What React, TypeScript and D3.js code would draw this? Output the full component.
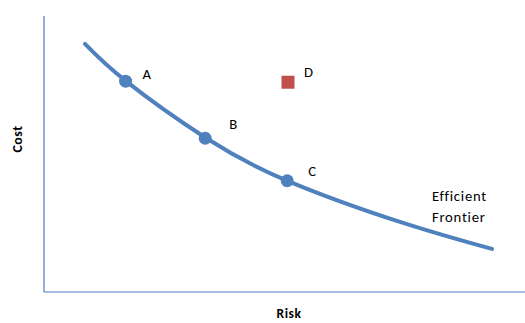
import React from "react";
import * as d3 from "d3";

const frontierX = [1.025, 2.05, 4.05, 6.1, 8.9, 11.2];
const frontierY = [8.99, 7.64, 5.58, 4.02, 2.54, 1.56];
const pointLabels = ["A", "B", "C"];
const pointX = [2.04, 4.03, 6.08];
const pointY = [7.64, 5.57, 4.03];
const otherLabel = "D";
const otherX = 6.1;
const otherY = 7.6;
const frontierLabel = ["Efficient", "Frontier"];

// label offsets (layout only)
const labelDX = [17, 24, 21];
const labelDY = [-2, -9, -5];

const W = 525;
const H = 323;

export default function App() {
  const x = d3.scaleLinear().domain([0, 12]).range([44, 524]);
  const y = d3.scaleLinear().domain([0, 10]).range([292, 16]);
  const line = d3
    .line<number>()
    .x((_, i) => x(frontierX[i]))
    .y((d) => y(d))
    .curve(d3.curveNatural);
  const font = "Carlito, Calibri, 'Open Sans', 'Liberation Sans', sans-serif";
  return (
    <svg
      width={W}
      height={H}
      style={{ position: "absolute", left: 0, top: 0 }}
      fontFamily={font}
    >
      <rect width={W} height={H} fill="#fff" />
      <line x1={x(0)} x2={x(0)} y1={16} y2={y(0)} stroke="#4a7ebb" strokeWidth={1.2} />
      <line x1={x(0)} x2={W} y1={y(0)} y2={y(0)} stroke="#4a7ebb" strokeWidth={1.2} />
      <path d={line(frontierY) || ""} fill="none" stroke="#4f81bd" strokeWidth={4} strokeLinecap="round" />
      {pointX.map((px, i) => (
        <g key={pointLabels[i]}>
          <circle cx={x(px)} cy={y(pointY[i])} r={6.5} fill="#4f81bd" />
          <text
            x={x(px) + labelDX[i]}
            y={y(pointY[i]) + labelDY[i]}
            fontSize={14.67}
            letterSpacing={0.6}
            fill="#000"
          >
            {pointLabels[i]}
          </text>
        </g>
      ))}
      <rect x={x(otherX) - 6.5} y={y(otherY) - 6.5} width={13} height={13} fill="#c0504d" />
      <text x={x(otherX) + 16} y={y(otherY) - 5} fontSize={14.67} fill="#000">
        {otherLabel}
      </text>
      {frontierLabel.map((t, i) => (
        <text key={t} x={432} y={201 + i * 21} fontSize={14.67} letterSpacing={0.75} fill="#000">
          {t}
        </text>
      ))}
      <text
        transform={`translate(22,139) rotate(-90)`}
        textAnchor="middle"
        fontSize={14}
        fontWeight="bold"
        letterSpacing={0.5}
        fill="#000"
      >
        Cost
      </text>
      <text
        x={289}
        y={318}
        textAnchor="middle"
        fontSize={13.5}
        fontWeight="bold"
        letterSpacing={0.5}
        fill="#000"
      >
        Risk
      </text>
    </svg>
  );
}
